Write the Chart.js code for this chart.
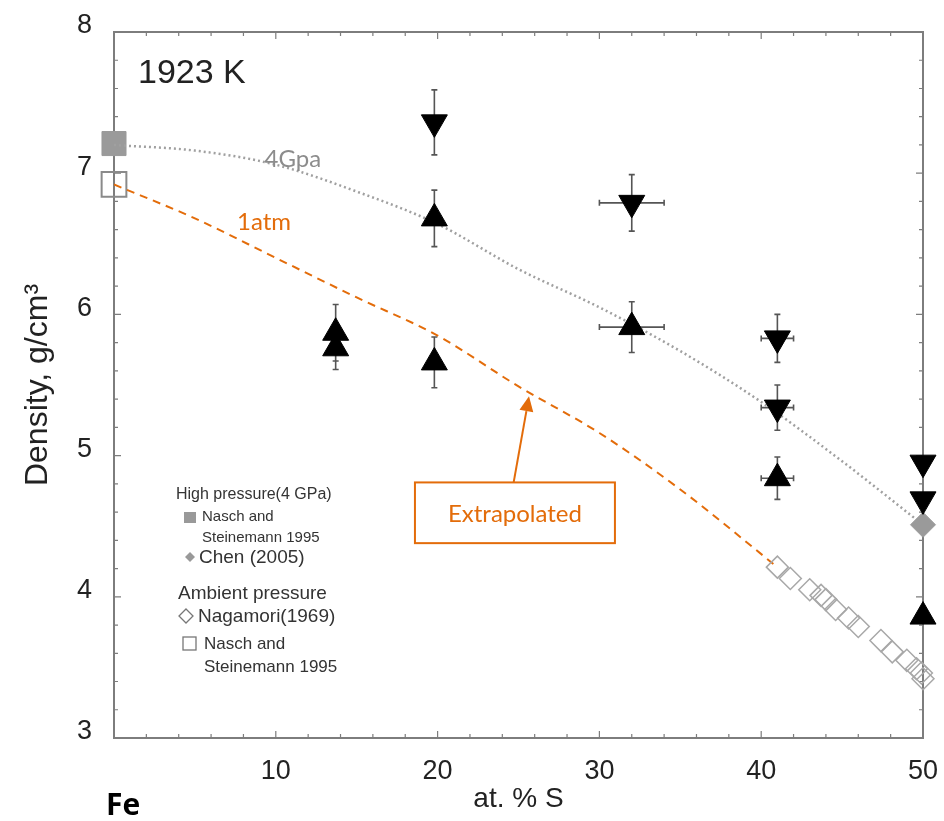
<!DOCTYPE html>
<html>
<head>
<meta charset="utf-8">
<script src="https://cdn.jsdelivr.net/npm/chart.js@4.4.0/dist/chart.umd.min.js"></script>
<style>
  html, body { margin: 0; padding: 0; background: #fff; }
  #wrap { width: 944px; height: 821px; position: relative; }
</style>
</head>
<body>
<div id="wrap"><canvas id="myChart"></canvas></div>
<script>
// axis ticks
const xTicks = [0, 10, 20, 30, 40, 50];
const yTicks = [3, 4, 5, 6, 7, 8];

// fitted curves
const gpaCurveX = [0, 5, 10, 15, 20, 25, 30, 35, 40, 45, 50];
const gpaCurveY = [7.20, 7.16, 7.06, 6.87, 6.64, 6.32, 6.05, 5.74, 5.38, 4.96, 4.51];
const atmCurveX = [0, 5, 10, 15, 20, 25, 30, 35, 41];
const atmCurveY = [6.92, 6.68, 6.40, 6.12, 5.85, 5.49, 5.16, 4.76, 4.21];

// Nasch and Steinemann 1995
const naschHP = [{x: 0, y: 7.21}];
const naschAmb = [{x: 0, y: 6.92}];
// Chen (2005)
const chen = [{x: 50, y: 4.51}];
// Nagamori (1969)
const nagamoriX = [41.0, 41.8, 43.0, 43.7, 44.0, 44.6, 45.4, 46.0, 47.4, 48.1, 49.0, 49.6, 49.9, 50.0];
const nagamoriY = [4.21, 4.13, 4.05, 4.01, 3.98, 3.91, 3.85, 3.79, 3.69, 3.61, 3.55, 3.49, 3.46, 3.42];

// black triangles (up / down) with error bars
const upX = [13.7, 13.7, 19.8, 19.8, 32, 41, 50];
const upY = [5.87, 5.76, 6.68, 5.66, 5.91, 4.84, 3.86];
const upErrY = [0.2, 0.15, 0.2, 0.18, 0.18, 0.15, 0];
const upErrX = [0, 0, 0, 0, 2, 1, 0];
const downX = [19.8, 32, 41, 41, 50, 50];
const downY = [7.36, 6.79, 5.83, 5.34, 4.95, 4.69];
const downErrY = [0.23, 0.2, 0.17, 0.16, 0, 0];
const downErrX = [0, 2, 1, 1, 0, 0];

const ORANGE = '#e36c0a';
const pts = (xs, ys) => xs.map((v, i) => ({x: v, y: ys[i]}));

const frameTicks = {
  id: 'frameTicks',
  beforeDatasetsDraw(chart) {
    const {ctx, chartArea: a, scales: {x, y}} = chart;
    ctx.save();
    ctx.strokeStyle = '#7d7d7d';
    ctx.lineWidth = 2;
    ctx.strokeRect(a.left, a.top, a.right - a.left, a.bottom - a.top);
    ctx.lineWidth = 1.2;
    ctx.beginPath();
    for (let v = 2; v < 50; v += 2) {
      const px = x.getPixelForValue(v);
      const len = v % 10 === 0 ? 7 : 4;
      ctx.moveTo(px, a.bottom); ctx.lineTo(px, a.bottom - len);
      ctx.moveTo(px, a.top); ctx.lineTo(px, a.top + len);
    }
    for (let i = 16; i < 40; i++) {
      const py = y.getPixelForValue(i / 5);
      const len = i % 5 === 0 ? 7 : 4;
      ctx.moveTo(a.left, py); ctx.lineTo(a.left + len, py);
      ctx.moveTo(a.right, py); ctx.lineTo(a.right - len, py);
    }
    ctx.stroke();
    ctx.restore();
  }
};

const errorBars = {
  id: 'errorBars',
  beforeDatasetsDraw(chart) {
    const {ctx, scales: {x, y}} = chart;
    ctx.save();
    ctx.strokeStyle = '#555';
    ctx.lineWidth = 1.6;
    ctx.beginPath();
    chart.data.datasets.forEach(ds => {
      if (!ds.errY) return;
      ds.data.forEach((p, i) => {
        const cx = x.getPixelForValue(p.x), cy = y.getPixelForValue(p.y);
        const ey = ds.errY[i], ex = ds.errX[i];
        if (ey) {
          const t = y.getPixelForValue(p.y + ey), b = y.getPixelForValue(p.y - ey);
          ctx.moveTo(cx, t); ctx.lineTo(cx, b);
          ctx.moveTo(cx - 3, t); ctx.lineTo(cx + 3, t);
          ctx.moveTo(cx - 3, b); ctx.lineTo(cx + 3, b);
        }
        if (ex) {
          const l = x.getPixelForValue(p.x - ex), r = x.getPixelForValue(p.x + ex);
          ctx.moveTo(l, cy); ctx.lineTo(r, cy);
          ctx.moveTo(l, cy - 3); ctx.lineTo(l, cy + 3);
          ctx.moveTo(r, cy - 3); ctx.lineTo(r, cy + 3);
        }
      });
    });
    ctx.stroke();
    ctx.restore();
  }
};

const notes = {
  id: 'notes',
  afterDraw(chart) {
    const {ctx, scales: {x, y}} = chart;
    ctx.save();
    ctx.textBaseline = 'middle';
    ctx.textAlign = 'left';
    // temperature
    ctx.fillStyle = '#222';
    ctx.font = '34px "Liberation Sans", Arial, sans-serif';
    ctx.fillText('1923 K', 138, 74);
    // curve labels
    ctx.font = '24px Lato, "Open Sans", sans-serif';
    ctx.fillStyle = '#8c8c8c';
    ctx.fillText('4Gpa', x.getPixelForValue(9.3), y.getPixelForValue(7.1));
    ctx.fillStyle = ORANGE;
    ctx.fillText('1atm', x.getPixelForValue(7.6), y.getPixelForValue(6.65));
    // extrapolated box + arrow
    const bl = x.getPixelForValue(18.6), br = x.getPixelForValue(30.96);
    const bt = y.getPixelForValue(4.81), bb = y.getPixelForValue(4.38);
    ctx.strokeStyle = ORANGE;
    ctx.lineWidth = 2;
    ctx.strokeRect(bl, bt, br - bl, bb - bt);
    ctx.textAlign = 'center';
    ctx.fillText('Extrapolated', (bl + br) / 2, (bt + bb) / 2 + 1);
    const ax0 = x.getPixelForValue(24.7), ay0 = bt;
    const ax1 = x.getPixelForValue(25.65), ay1 = y.getPixelForValue(5.42);
    const ang = Math.atan2(ay1 - ay0, ax1 - ax0);
    const head = 15, hw = 7;
    ctx.beginPath();
    ctx.moveTo(ax0, ay0);
    ctx.lineTo(ax1 - Math.cos(ang) * head, ay1 - Math.sin(ang) * head);
    ctx.stroke();
    ctx.beginPath();
    ctx.moveTo(ax1, ay1);
    ctx.lineTo(ax1 - Math.cos(ang) * head + Math.sin(ang) * hw, ay1 - Math.sin(ang) * head - Math.cos(ang) * hw);
    ctx.lineTo(ax1 - Math.cos(ang) * head - Math.sin(ang) * hw, ay1 - Math.sin(ang) * head + Math.cos(ang) * hw);
    ctx.closePath();
    ctx.fillStyle = ORANGE;
    ctx.fill();
    // Fe label under the origin
    ctx.fillStyle = '#000';
    ctx.font = 'bold 30px "Open Sans", sans-serif';
    ctx.textAlign = 'left';
    ctx.fillText('Fe', 106, 806);
    ctx.restore();
  }
};

const legendBox = {
  id: 'legendBox',
  afterDraw(chart) {
    const {ctx} = chart;
    ctx.save();
    ctx.textBaseline = 'middle';
    ctx.textAlign = 'left';
    ctx.fillStyle = '#333';
    const f = s => `${s}px "Liberation Sans", Arial, sans-serif`;
    ctx.font = f(16);
    ctx.fillText('High pressure(4 GPa)', 176, 495);
    ctx.font = f(15);
    ctx.fillText('Nasch and', 202, 517);
    ctx.fillText('Steinemann 1995', 202, 538);
    ctx.font = f(19);
    ctx.fillText('Chen (2005)', 199, 558);
    ctx.fillText('Ambient pressure', 178, 594);
    ctx.fillText('Nagamori(1969)', 198, 617);
    ctx.font = f(17);
    ctx.fillText('Nasch and', 204, 644);
    ctx.fillText('Steinemann 1995', 204, 667);
    // symbols
    ctx.fillStyle = '#999';
    ctx.fillRect(184, 512, 12, 11);
    ctx.beginPath();
    ctx.moveTo(190, 552); ctx.lineTo(195, 557); ctx.lineTo(190, 562); ctx.lineTo(185, 557);
    ctx.closePath(); ctx.fill();
    ctx.strokeStyle = '#777';
    ctx.lineWidth = 1.3;
    ctx.beginPath();
    ctx.moveTo(186, 609); ctx.lineTo(193, 616); ctx.lineTo(186, 623); ctx.lineTo(179, 616);
    ctx.closePath(); ctx.stroke();
    ctx.strokeRect(183, 637, 13, 13);
    ctx.restore();
  }
};

const data = {
  datasets: [
    {
      label: 'up',
      data: pts(upX, upY),
      errY: upErrY, errX: upErrX,
      pointStyle: 'triangle',
      pointRadius: 15,
      backgroundColor: '#000',
      borderColor: '#000',
      borderWidth: 1,
      clip: false
    },
    {
      label: 'down',
      data: pts(downX, downY),
      errY: downErrY, errX: downErrX,
      pointStyle: 'triangle',
      rotation: 180,
      pointRadius: 15,
      backgroundColor: '#000',
      borderColor: '#000',
      borderWidth: 1,
      clip: false
    },
    {
      label: 'Chen (2005)',
      data: chen,
      pointStyle: 'rectRot',
      pointRadius: 12.5,
      backgroundColor: '#9a9a9a',
      borderColor: '#9a9a9a',
      borderWidth: 1,
      clip: false
    },
    {
      label: 'Nagamori(1969)',
      data: pts(nagamoriX, nagamoriY),
      pointStyle: 'rectRot',
      pointRadius: 11,
      backgroundColor: 'rgba(255,255,255,0)',
      borderColor: '#a8a8a8',
      borderWidth: 1.5,
      clip: false
    },
    {
      label: '1atm',
      data: pts(atmCurveX, atmCurveY),
      showLine: true,
      cubicInterpolationMode: 'monotone',
      borderColor: ORANGE,
      borderWidth: 2,
      borderDash: [8, 6],
      pointRadius: 0
    },
    {
      label: '4Gpa',
      data: pts(gpaCurveX, gpaCurveY),
      showLine: true,
      cubicInterpolationMode: 'monotone',
      borderColor: '#a0a0a0',
      borderWidth: 2.5,
      borderDash: [2, 3],
      pointRadius: 0
    },
    {
      label: 'Nasch ambient',
      data: naschAmb,
      pointStyle: 'rect',
      pointRadius: 17.5,
      backgroundColor: 'rgba(255,255,255,0)',
      borderColor: '#8a8a8a',
      borderWidth: 2,
      clip: false
    },
    {
      label: 'Nasch HP',
      data: naschHP,
      pointStyle: 'rect',
      pointRadius: 17,
      backgroundColor: '#9a9a9a',
      borderColor: '#9a9a9a',
      borderWidth: 1,
      clip: false
    }
  ]
};

const noPad = s => { s.paddingLeft = 0; s.paddingRight = 0; s.paddingTop = 0; s.paddingBottom = 0; };

const ctx = document.getElementById('myChart');
new Chart(ctx, {
  type: 'scatter',
  data: data,
  plugins: [errorBars, frameTicks, notes, legendBox],
  options: {
    responsive: true,
    maintainAspectRatio: false,
    animation: false,
    events: [],
    layout: { padding: { top: 32, right: 21, left: 0, bottom: 0 } },
    plugins: {
      legend: { display: false },
      tooltip: { enabled: false }
    },
    scales: {
      x: {
        type: 'linear',
        min: 0,
        max: 50,
        afterFit: s => { s.height = 83; noPad(s); },
        afterBuildTicks: s => { s.ticks = xTicks.map(v => ({value: v})); },
        grid: { display: false, drawTicks: false },
        border: { display: true, color: '#7d7d7d', width: 2 },
        ticks: {
          padding: 17,
          color: '#222',
          font: { family: '"Liberation Sans", Arial, sans-serif', size: 27 },
          callback: v => (v === 0 ? '' : v)
        },
        title: {
          display: true,
          text: 'at. % S',
          color: '#222',
          padding: { top: 0, bottom: 8 },
          font: { family: '"Liberation Sans", Arial, sans-serif', size: 28, lineHeight: 1 }
        }
      },
      y: {
        type: 'linear',
        min: 3,
        max: 8,
        afterFit: s => { s.width = 114; noPad(s); },
        afterBuildTicks: s => { s.ticks = yTicks.map(v => ({value: v})); },
        grid: { display: false, drawTicks: false },
        border: { display: true, color: '#7d7d7d', width: 2 },
        ticks: {
          padding: 22,
          labelOffset: -6,
          color: '#222',
          font: { family: '"Liberation Sans", Arial, sans-serif', size: 27 }
        },
        title: {
          display: true,
          text: 'Density, g/cm³',
          color: '#222',
          padding: { top: 22, bottom: 0 },
          font: { family: '"Liberation Sans", Arial, sans-serif', size: 32, lineHeight: 1 }
        }
      }
    }
  }
});
</script>
</body>
</html>
